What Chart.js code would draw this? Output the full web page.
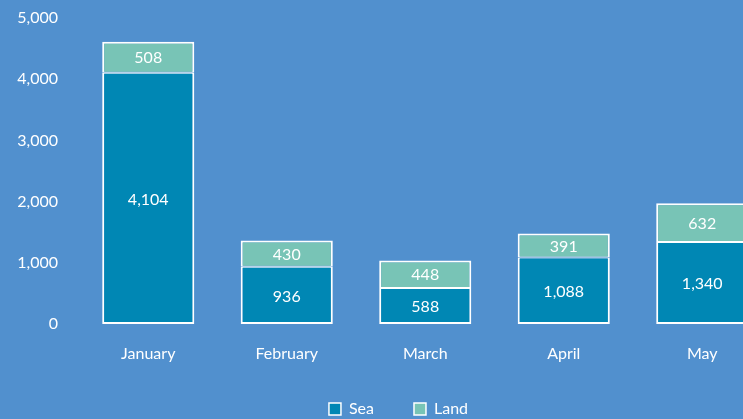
<!DOCTYPE html>
<html>
<head>
<meta charset="utf-8">
<script src="https://cdn.jsdelivr.net/npm/chart.js@4/dist/chart.umd.min.js"></script>
<style>
html,body{margin:0;padding:0;overflow:hidden;background:#5190CE;}
#wrap{position:relative;width:797px;height:419px;}
</style>
</head>
<body>
<div id="wrap"><canvas id="c"></canvas></div>
<script>
const categories = ["January", "February", "March", "April", "May"];
const seaValues = [4104, 936, 588, 1088, 1340];
const landValues = [508, 430, 448, 391, 632];
const yTicks = [0, 1000, 2000, 3000, 4000, 5000];

const SEA = '#0087B4';
const LAND = '#78C4B6';
const FONT = 'Lato, "Open Sans", sans-serif';

const fmt = v => v.toLocaleString('en-US');

const labelPlugin = {
  id: 'segLabels',
  afterDatasetsDraw(chart) {
    const ctx = chart.ctx;
    ctx.save();
    ctx.fillStyle = '#ffffff';
    ctx.font = '16px ' + FONT;
    ctx.textAlign = 'center';
    ctx.textBaseline = 'middle';
    chart.data.datasets.forEach((ds, i) => {
      const meta = chart.getDatasetMeta(i);
      meta.data.forEach((el, j) => {
        const y = (el.y + el.base) / 2;
        ctx.fillText(fmt(ds.data[j]), el.x, y + 1);
      });
    });
    ctx.restore();
  }
};

// centre the legend on the full canvas and lift it slightly
const legendShift = {
  id: 'legendShift',
  afterLayout(chart) {
    const lg = chart.legend;
    if (!lg) return;
    const dx = (chart.width - (lg.left + lg.right)) / 2;
    lg.left += dx; lg.right += dx;
    lg.top -= 5;
  }
};

new Chart(document.getElementById('c'), {
  type: 'bar',
  data: {
    labels: categories,
    datasets: [
      { label: 'Sea', data: seaValues, backgroundColor: SEA, borderColor: '#ffffff',
        borderWidth: {left: 2, right: 2, bottom: 2, top: 1}, borderSkipped: false },
      { label: 'Land', data: landValues, backgroundColor: LAND, borderColor: '#ffffff',
        borderWidth: {left: 2, right: 2, bottom: 1, top: 2}, borderSkipped: false }
    ]
  },
  options: {
    responsive: true,
    maintainAspectRatio: false,
    animation: false,
    layout: { padding: { top: 18, left: 0, right: 25.5, bottom: 0 } },
    datasets: { bar: { categoryPercentage: 1, barPercentage: 0.665 } },
    scales: {
      x: {
        stacked: true,
        grid: { display: false, drawTicks: false },
        border: { display: false },
        ticks: { color: '#ffffff', font: { family: FONT, size: 16 }, padding: 20 },
        afterFit: s => { s.height = 42; }
      },
      y: {
        stacked: true,
        min: 0, max: 5000,
        afterBuildTicks: s => { s.ticks = yTicks.map(v => ({ value: v })); },
        grid: { display: false, drawTicks: false },
        border: { display: false },
        ticks: { color: '#ffffff', font: { family: FONT, size: 16 }, padding: 21,
                 callback: v => fmt(v) },
        afterFit: s => { s.width = 79; s.paddingTop = 0; s.paddingBottom = 0; }
      }
    },
    plugins: {
      tooltip: { enabled: false },
      legend: {
        position: 'bottom',
        maxHeight: 53,
        labels: {
          color: '#ffffff',
          font: { family: FONT, size: 16 },
          boxWidth: 12, boxHeight: 12,
          padding: 40,
          generateLabels: chart => chart.data.datasets.map((ds, i) => ({
            text: ds.label, fillStyle: ds.backgroundColor, strokeStyle: '#ffffff',
            lineWidth: 1.5, fontColor: '#ffffff', datasetIndex: i, hidden: false
          }))
        }
      }
    }
  },
  plugins: [labelPlugin, legendShift]
});
</script>
</body>
</html>
